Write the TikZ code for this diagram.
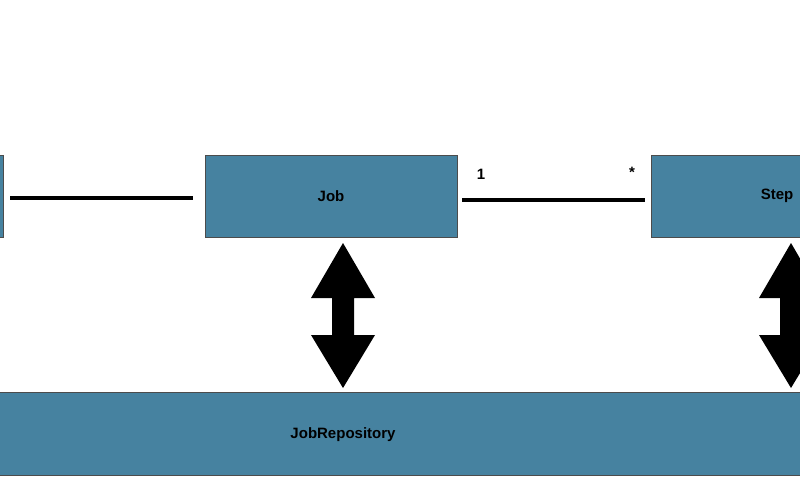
\documentclass[tikz,border=0pt]{standalone}
\usepackage{fontspec}
\setmainfont{Liberation Sans}
\begin{document}
\begin{tikzpicture}[x=1pt,y=-1pt,
  box/.style={draw=black!70,line width=0.6pt,fill={rgb,255:red,70;green,130;blue,160}},
  lbl/.style={font=\bfseries\fontsize{15}{18}\selectfont},
  link/.style={line width=4.5pt},
  dbl/.style={fill=black}]
\useasboundingbox (0,0) rectangle (800,500);
\clip (0,0) rectangle (800,500);
\fill[white] (0,0) rectangle (800,500);
\draw[box] (-250,155) rectangle (3,237);
\draw[box] (205,155) rectangle (457,237);
\draw[box] (651,155) rectangle (903,237);
\draw[box] (-10,392) rectangle (810,475);
\node[lbl] (job) at (331,196) {Job};
\node[lbl] (step) at (777,196) {Step};
\node[lbl] (repo) at (343,435) {JobRepository};
\coordinate (l1) at (10,198); \coordinate (l2) at (193,198);
\draw[link] (l1) -- (l2);
\coordinate (m1) at (462,200); \coordinate (m2) at (645,200);
\draw[link] (m1) -- (m2);
\node[lbl] at (481,174) {1};
\node[lbl] at (632,172) {*};
\foreach \c in {343,791}{
  \fill[dbl] (\c,243) -- (\c+32,298) -- (\c+11,298) -- (\c+11,335) -- (\c+32,335)
    -- (\c,388) -- (\c-32,335) -- (\c-11,335) -- (\c-11,298) -- (\c-32,298) -- cycle;
}
\end{tikzpicture}
\end{document}
